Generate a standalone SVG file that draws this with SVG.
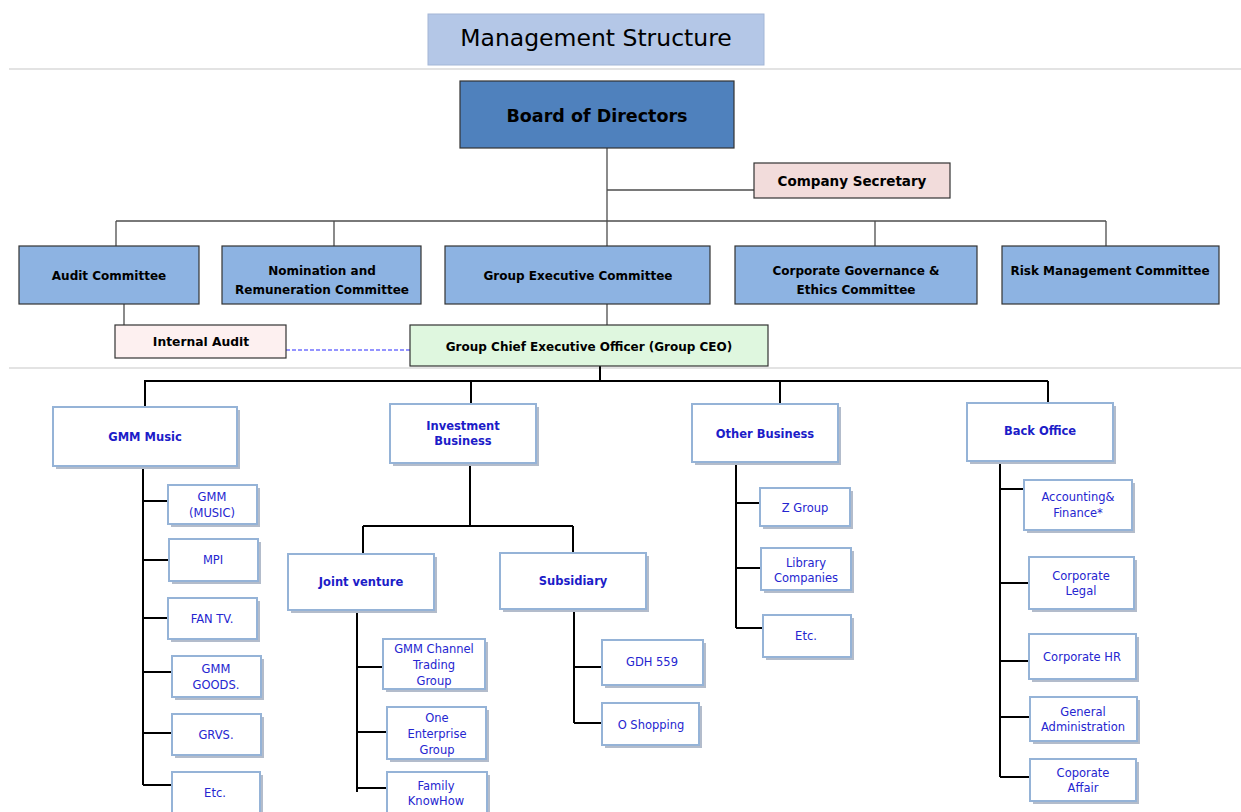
<svg xmlns="http://www.w3.org/2000/svg" width="1241" height="812" viewBox="0 0 1241 812">
<style>
text{font-family:"DejaVu Sans","Verdana",sans-serif;text-anchor:middle}
.title{font-size:23.5px;fill:#000}
.bod{font-size:17.5px;font-weight:bold;fill:#000}
.cm{font-size:12px;font-weight:bold;fill:#000}
.hd{font-size:11.5px;font-weight:bold;fill:#1c1cc8}
.ch{font-size:11.5px;fill:#2525d0}
.dark{stroke:#333;stroke-width:1.2}
.box{fill:#fff;stroke:#95b3d7;stroke-width:2}
.sh{fill:#b3bccb}
.sep{stroke:#c8c8c8;stroke-width:1.2}
.c1{fill:none;stroke:#4d4d4d;stroke-width:1.3}
.c2{fill:none;stroke:#000;stroke-width:2}
.dash{fill:none;stroke:#2b2bff;stroke-width:1.2;stroke-dasharray:4,2}
</style>
<rect width="1241" height="812" fill="#fff"/>
<g id="separators">
<line class="sep" x1="9" y1="69" x2="1241" y2="69"/>
<line class="sep" x1="9" y1="368" x2="1241" y2="368"/>
</g>
<g id="connectors">
<path class="c1" d="M607,148V246M607,190H754M116,221H1106M116,221V246M334,221V246M875,221V246M1106,221V246M124,304V325M607,304V325"/>
<path class="dash" d="M286,350H410"/>
<path class="c2" d="M600,366V381M144,381H1048M145,381V407M471,381V404M780,381V404M1048,381V403"/>
<path class="c2" d="M143,466V785M143,501H168M143,560H169M143,618H168M143,672H172M143,733H172M143,785H172"/>
<path class="c2" d="M470,463V526M363,526H573M363,526V554M573,526V553"/>
<path class="c2" d="M357,610V792M357,667H383M357,732H387M357,788H387"/>
<path class="c2" d="M574,609V723M574,667H602M574,723H602"/>
<path class="c2" d="M736,462V628M736,503H760M736,568H761M736,628H763"/>
<path class="c2" d="M1000,461V777M1000,489H1024M1000,583H1029M1000,661H1029M1000,717H1030M1000,777H1030"/>
</g>
<g id="title"><rect x="428" y="14" width="336" height="51" fill="#b4c7e7" stroke="#a3b6d6"/><text class="title" x="596" y="46">Management Structure</text></g>
<g id="board"><rect class="dark" x="460" y="81" width="274" height="67" fill="#4f81bd"/><text class="bod" x="597" y="122">Board of Directors</text></g>
<g id="secretary"><rect class="dark" x="754" y="163" width="196" height="35" fill="#f2dcdb"/><text class="cm" style="font-size:13.5px" x="852" y="186">Company Secretary</text></g>
<g id="audit-committee"><rect class="dark" x="19" y="246" width="180" height="58" fill="#8db3e2"/><text class="cm" x="109" y="280">Audit Committee</text></g>
<g id="nomination"><rect class="dark" x="222" y="246" width="199" height="58" fill="#8db3e2"/><text class="cm" x="322" y="275">Nomination and</text><text class="cm" x="322" y="294">Remuneration Committee</text></g>
<g id="group-exec"><rect class="dark" x="445" y="246" width="265" height="58" fill="#8db3e2"/><text class="cm" x="578" y="280">Group Executive Committee</text></g>
<g id="corp-gov"><rect class="dark" x="735" y="246" width="242" height="58" fill="#8db3e2"/><text class="cm" x="856" y="275">Corporate Governance &amp;</text><text class="cm" x="856" y="294">Ethics Committee</text></g>
<g id="risk"><rect class="dark" x="1002" y="246" width="217" height="58" fill="#8db3e2"/><text class="cm" x="1110" y="275">Risk Management Committee</text></g>
<g id="internal-audit"><rect class="dark" x="115" y="325" width="171" height="33" fill="#fdf0f0"/><text class="cm" style="font-size:12.3px" x="201" y="346">Internal Audit</text></g>
<g id="ceo"><rect class="dark" x="410" y="325" width="358" height="41" fill="#dff7df"/><text class="cm" x="589" y="351">Group Chief Executive Officer (Group CEO)</text></g>

<g id="gmm-music"><rect class="sh" x="56" y="410" width="184" height="59"/><rect class="box" x="53" y="407" width="184" height="59"/><text class="hd" x="145" y="441">GMM  Music</text></g>
<g id="gmm-music-co"><rect class="sh" x="171" y="488" width="89" height="39"/><rect class="box" x="168" y="485" width="89" height="39"/><text class="ch" x="212" y="501">GMM</text><text class="ch" x="212" y="517">(MUSIC)</text></g>
<g id="mpi"><rect class="sh" x="172" y="542" width="89" height="42"/><rect class="box" x="169" y="539" width="89" height="42"/><text class="ch" x="213" y="564">MPI</text></g>
<g id="fantv"><rect class="sh" x="171" y="601" width="89" height="41"/><rect class="box" x="168" y="598" width="89" height="41"/><text class="ch" x="212" y="623">FAN TV.</text></g>
<g id="gmm-goods"><rect class="sh" x="175" y="659" width="89" height="41"/><rect class="box" x="172" y="656" width="89" height="41"/><text class="ch" x="216" y="673">GMM</text><text class="ch" x="216" y="689">GOODS.</text></g>
<g id="grvs"><rect class="sh" x="175" y="717" width="89" height="41"/><rect class="box" x="172" y="714" width="89" height="41"/><text class="ch" x="216" y="739">GRVS.</text></g>
<g id="gmm-etc"><rect class="sh" x="175" y="775" width="88" height="45"/><rect class="box" x="172" y="772" width="88" height="45"/><text class="ch" x="215" y="797">Etc.</text></g>

<g id="investment"><rect class="sh" x="393" y="407" width="146" height="59"/><rect class="box" x="390" y="404" width="146" height="59"/><text class="hd" x="463" y="430">Investment</text><text class="hd" x="463" y="445">Business</text></g>
<g id="joint-venture"><rect class="sh" x="291" y="557" width="146" height="56"/><rect class="box" x="288" y="554" width="146" height="56"/><text class="hd" x="361" y="586">Joint venture</text></g>
<g id="subsidiary"><rect class="sh" x="503" y="556" width="146" height="56"/><rect class="box" x="500" y="553" width="146" height="56"/><text class="hd" x="573" y="585">Subsidiary</text></g>
<g id="gmm-channel"><rect class="sh" x="386" y="642" width="102" height="50"/><rect class="box" x="383" y="639" width="102" height="50"/><text class="ch" x="434" y="653">GMM  Channel</text><text class="ch" x="434" y="669">Trading</text><text class="ch" x="434" y="685">Group</text></g>
<g id="one-enterprise"><rect class="sh" x="390" y="710" width="99" height="52"/><rect class="box" x="387" y="707" width="99" height="52"/><text class="ch" x="437" y="722">One</text><text class="ch" x="437" y="738">Enterprise</text><text class="ch" x="437" y="754">Group</text></g>
<g id="family-knowhow"><rect class="sh" x="390" y="775" width="100" height="45"/><rect class="box" x="387" y="772" width="100" height="45"/><text class="ch" x="436" y="790">Family</text><text class="ch" x="436" y="805">KnowHow</text></g>
<g id="gdh"><rect class="sh" x="605" y="643" width="101" height="45"/><rect class="box" x="602" y="640" width="101" height="45"/><text class="ch" x="652" y="666">GDH 559</text></g>
<g id="o-shopping"><rect class="sh" x="605" y="706" width="97" height="42"/><rect class="box" x="602" y="703" width="97" height="42"/><text class="ch" x="651" y="729">O Shopping</text></g>

<g id="other-business"><rect class="sh" x="695" y="407" width="146" height="58"/><rect class="box" x="692" y="404" width="146" height="58"/><text class="hd" x="765" y="438">Other Business</text></g>
<g id="z-group"><rect class="sh" x="763" y="491" width="90" height="38"/><rect class="box" x="760" y="488" width="90" height="38"/><text class="ch" x="805" y="512">Z Group</text></g>
<g id="library"><rect class="sh" x="764" y="551" width="90" height="42"/><rect class="box" x="761" y="548" width="90" height="42"/><text class="ch" x="806" y="567">Library</text><text class="ch" x="806" y="582">Companies</text></g>
<g id="other-etc"><rect class="sh" x="766" y="618" width="88" height="42"/><rect class="box" x="763" y="615" width="88" height="42"/><text class="ch" x="806" y="640">Etc.</text></g>

<g id="back-office"><rect class="sh" x="970" y="406" width="146" height="58"/><rect class="box" x="967" y="403" width="146" height="58"/><text class="hd" x="1040" y="435">Back Office</text></g>
<g id="accounting"><rect class="sh" x="1027" y="483" width="108" height="50"/><rect class="box" x="1024" y="480" width="108" height="50"/><text class="ch" x="1078" y="501">Accounting&amp;</text><text class="ch" x="1078" y="517">Finance*</text></g>
<g id="legal"><rect class="sh" x="1032" y="560" width="105" height="52"/><rect class="box" x="1029" y="557" width="105" height="52"/><text class="ch" x="1081" y="580">Corporate</text><text class="ch" x="1081" y="595">Legal</text></g>
<g id="hr"><rect class="sh" x="1032" y="637" width="107" height="45"/><rect class="box" x="1029" y="634" width="107" height="45"/><text class="ch" x="1082" y="661">Corporate HR</text></g>
<g id="general-admin"><rect class="sh" x="1033" y="700" width="107" height="44"/><rect class="box" x="1030" y="697" width="107" height="44"/><text class="ch" x="1083" y="716">General</text><text class="ch" x="1083" y="731">Administration</text></g>
<g id="corp-affair"><rect class="sh" x="1033" y="762" width="106" height="42"/><rect class="box" x="1030" y="759" width="106" height="42"/><text class="ch" x="1083" y="777">Coporate</text><text class="ch" x="1083" y="792">Affair</text></g>
</svg>
